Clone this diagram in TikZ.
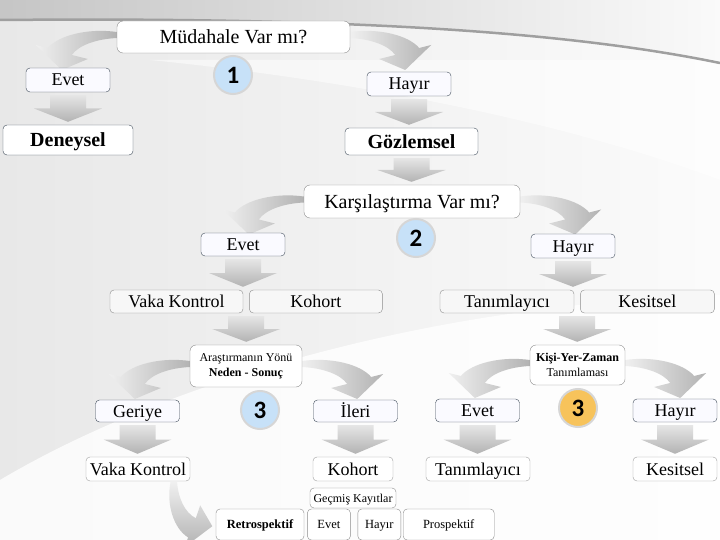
\documentclass[tikz,border=0pt]{standalone}
\usepackage{fontspec}
\setmainfont{Liberation Serif}
\newfontfamily\numfont{Carlito}
\usetikzlibrary{calc,positioning}
\definecolor{SlateLine}{HTML}{3E4A59}
\definecolor{BoxGrey}{HTML}{8C8C8C}
\definecolor{NumBlue}{HTML}{C7E1F8}
\definecolor{NumOrange}{HTML}{F7C35B}
\definecolor{RimGrey}{HTML}{D6D6D6}
\pgfdeclarelayer{bg}
\pgfdeclarelayer{conn}
\pgfsetlayers{bg,conn,main}

% grey block arrow pointing down, from one anchor to another
\newcommand{\blkdown}[2]{%
  \path[blkfill] let \p1=(#1), \p2=(#2), \p3=($(#1)!0.5!(#2)$) in
    (\x1-18pt,\y1-3pt) -- (\x1+18pt,\y1-3pt) -- (\x1+18pt,\y3) -- (\x1+34pt,\y3)
    -- (\x1,\y2+3pt) -- (\x1-34pt,\y3) -- (\x1-18pt,\y3) -- cycle;}

\tikzset{
  blkfill/.style={top color=gray!20, bottom color=gray!60},
  bendfill/.style={left color=gray!12, right color=gray!60},
  bendfilld/.style={top color=gray!12, bottom color=gray!60},
  % curved arrow leaving a box sideways and turning down
  bendr/.pic={\path[bendfill] (0,-5) .. controls (28,-9) and (58,-2) .. (69,11) -- (81,8)
    -- (55,33) -- (29,22) -- (45,18) .. controls (38,8) and (20,2) .. (0,1) -- cycle;},
  % curved arrow leaving a box downwards and turning right
  bendd/.pic={\path[bendfilld] (-5,0) .. controls (-9,28) and (-2,58) .. (11,69) -- (8,81)
    -- (33,55) -- (22,29) -- (18,45) .. controls (8,38) and (2,20) .. (1,0) -- cycle;},
}

\begin{document}
\begin{tikzpicture}[
    x=1pt, y=-1pt,
    box/.style={rectangle, rounded corners=4pt, draw=SlateLine, fill=white,
      inner sep=0pt, align=center, font=\fontsize{18}{20}\selectfont,
      text height=12pt, text depth=0pt},
    qbox/.style={box, draw=BoxGrey, rounded corners=6pt, font=\fontsize{20}{22}\selectfont,
      text height=13.5pt},
    ans/.style={box, fill=blue!2, minimum width=84pt, minimum height=24pt},
    headbox/.style={box, font=\fontsize{20}{22}\selectfont\bfseries, text height=13.5pt},
    typebox/.style={box, draw=BoxGrey, fill=gray!6, minimum height=23pt},
    leafbox/.style={box, draw=gray!75, minimum height=24pt},
    tinybox/.style={box, draw=BoxGrey, font=\fontsize{12.5}{14}\selectfont, minimum height=31pt,
      text height=8.5pt},
    twoline/.style={qbox, font=\fontsize{12}{15}\selectfont, text height=, text depth=},
    numdot/.style={circle, minimum size=38pt, fill=NumBlue, draw=RimGrey, line width=2pt,
      inner sep=0pt, font=\numfont\bfseries\fontsize{25}{25}\selectfont}
  ]
  \useasboundingbox (0,0) rectangle (720,540);

  % background and top swoosh
  \begin{pgfonlayer}{bg}
    \shade[left color=gray!18, right color=gray!3] (0,0) rectangle (720,540);
    \fill[white, opacity=0.8] (0,540) -- (0,480) .. controls (160,385) and (420,305) .. (720,295) -- (720,540) -- cycle;
    \fill[white, opacity=0.5] (150,60) .. controls (350,80) and (560,120) .. (720,180) -- (720,60) -- cycle;
    \shade[left color=gray!45, right color=gray!4] (0,0) -- (720,0) -- (720,63)
      .. controls (560,30) and (330,17) .. (0,20) -- cycle;
    \draw[gray!75, line width=2.5pt] (0,20) .. controls (330,17) and (560,30) .. (720,63);
  \end{pgfonlayer}

  % step 1
  \node[qbox, minimum width=233pt, minimum height=32pt] (mud) at (233.5,37) {Müdahale Var mı?};
  \node[numdot] (n1) at (233,75) {1};
  \node[ans] (evet1) at (68,80) {Evet};
  \node[ans] (hayir1) at (409,84) {Hayır};
  \node[headbox, minimum width=130pt, minimum height=30pt] (deney) at (68,140) {Deneysel};
  \node[headbox, minimum width=133pt, minimum height=27pt] (gozlem) at (411.5,141.5) {Gözlemsel};

  % step 2
  \node[qbox, minimum width=216pt, minimum height=33pt] (kars) at (412,201.5) {Karşılaştırma Var mı?};
  \node[numdot] (n2) at (416,238) {2};
  \node[ans, minimum height=23pt] (evet2) at (243,244.5) {Evet};
  \node[ans] (hayir2) at (573,246) {Hayır};
  \node[typebox, minimum width=133pt] (vk1) at (176.5,301.5) {Vaka Kontrol};
  \node[typebox, minimum width=133pt, right=6pt of vk1] (koh1) {Kohort};
  \node[typebox, minimum width=134pt] (tan1) at (507,301.5) {Tanımlayıcı};
  \node[typebox, minimum width=134pt, right=6pt of tan1] (kes1) {Kesitsel};

  % step 3
  \node[twoline, minimum width=112pt, minimum height=42pt] (yon)
    at (246,366) {Araştırmanın Yönü\\\textbf{Neden - Sonuç}};
  \node[twoline, minimum width=95pt, minimum height=40pt] (kyz)
    at (577.5,365) {\textbf{Kişi-Yer-Zaman}\\Tanımlaması};
  \node[numdot] (n3) at (260,410) {3};
  \node[numdot, fill=NumOrange] (n4) at (578,408) {3};
  \node[ans, minimum height=22pt] (geri) at (137.5,411) {Geriye};
  \node[ans, minimum height=22pt] (ileri) at (355.5,411) {İleri};
  \node[ans, minimum height=23pt] (evet3) at (477.5,410.5) {Evet};
  \node[ans, minimum height=23pt] (hayir3) at (675,410.5) {Hayır};
  \node[leafbox, minimum width=104pt] (vk2) at (138,469) {Vaka Kontrol};
  \node[leafbox, minimum width=80pt] (koh2) at (353,469) {Kohort};
  \node[leafbox, minimum width=104pt] (tan2) at (478,469) {Tanımlayıcı};
  \node[leafbox, minimum width=84pt] (kes2) at (675,469) {Kesitsel};

  % bottom row
  \node[tinybox, font=\fontsize{12}{14}\selectfont, minimum width=86pt, minimum height=20pt] (gecmis)
    at (353,498) {Geçmiş Kayıtlar};
  \node[tinybox, font=\fontsize{12.5}{14}\selectfont\bfseries, minimum width=88pt] (retro)
    at (260,524.5) {Retrospektif};
  \node[tinybox, minimum width=43pt, right=3pt of retro] (evet4) {Evet};
  \node[tinybox, minimum width=43pt, right=7pt of evet4] (hayir4) {Hayır};
  \node[tinybox, minimum width=91pt, right=2pt of hayir4] (pros) {Prospektif};

  % connectors
  \begin{pgfonlayer}{conn}
    \pic[xscale=-1] at (mud.west) {bendr};
    \pic at (mud.east) {bendr};
    \pic[xscale=-1] at (kars.west) {bendr};
    \pic at (kars.east) {bendr};
    \pic[xscale=-1] at (yon.west) {bendr};
    \pic at (yon.east) {bendr};
    \pic[xscale=-1] at (kyz.west) {bendr};
    \pic at (kyz.east) {bendr};
    \pic[xscale=1.1, yscale=0.8] at ($(vk2.south)+(38,1)$) {bendd};

    \blkdown{evet1.south}{deney.north}
    \blkdown{hayir1.south}{gozlem.north}
    \blkdown{gozlem.south}{kars.north}
    \blkdown{evet2.south}{evet2.south |- vk1.north}
    \blkdown{hayir2.south}{hayir2.south |- tan1.north}
    \blkdown{$(vk1.south east)!0.5!(koh1.south west)$}{yon.north}
    \blkdown{$(tan1.south east)!0.5!(kes1.south west)$}{kyz.north}
    \blkdown{geri.south}{vk2.north}
    \blkdown{ileri.south}{koh2.north}
    \blkdown{evet3.south}{tan2.north}
    \blkdown{hayir3.south}{kes2.north}
  \end{pgfonlayer}
\end{tikzpicture}
\end{document}
